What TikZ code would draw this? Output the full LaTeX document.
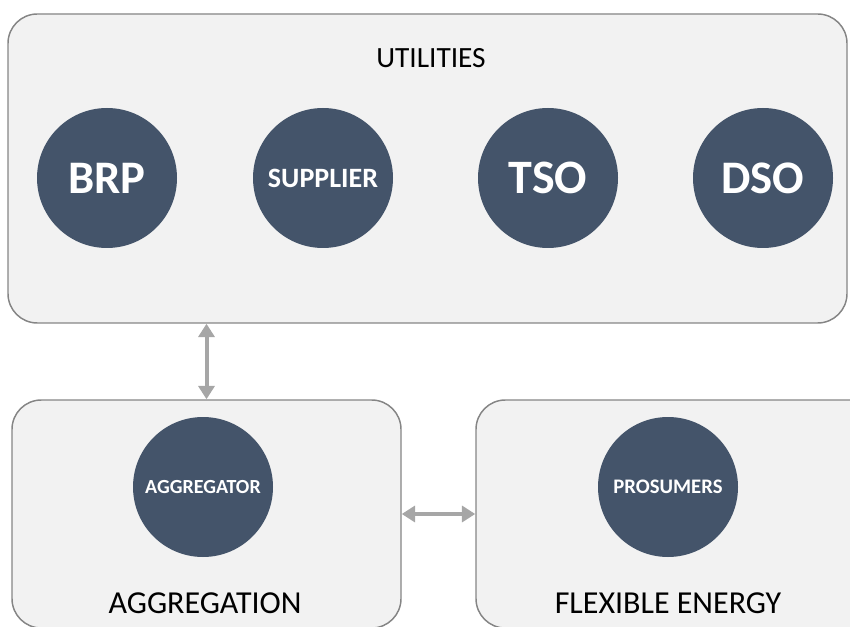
\documentclass[tikz,border=0pt]{standalone}
\usepackage{fontspec}
\setmainfont{Carlito}
\usetikzlibrary{arrows.meta, positioning, fit}
\definecolor{roleNavy}{HTML}{44546A}
\definecolor{panelGray}{HTML}{F2F2F2}
\definecolor{panelEdge}{HTML}{858585}
\definecolor{linkGray}{HTML}{A6A6A6}
\tikzset{
  panel/.style={rectangle, rounded corners=22pt, draw=panelEdge, fill=panelGray,
                line width=1.1pt, inner sep=0pt},
  role/.style={circle, fill=roleNavy, text=white, minimum size=105pt,
               inner sep=0pt, font=\bfseries},
  title/.style={text=black, inner sep=0pt},
  link/.style={{Triangle[length=10pt, width=12pt]}-{Triangle[length=10pt, width=12pt]},
               linkGray, line width=3pt},
}
\begin{document}
\begin{tikzpicture}[x=0.75pt, y=-0.75pt]
    \useasboundingbox (0,0) rectangle (850,627);
    % panels
    \node[panel, fit={(8,14) (847,323)}] (util) {};
    \node[panel, fit={(12,400) (401,628)}] (aggbox) {};
    \node[panel, fit={(476,400) (890,628)}] (flexbox) {};
    \node[title, font=\fontsize{22}{26}\selectfont] (utiltitle) at (431,58) {UTILITIES};
    % utility roles
    \foreach \n/\x/\s/\t in {brp/107/35/BRP, sup/323/21/SUPPLIER, tso/548/36/TSO, dso/763/35/DSO} {
      \node[role, font=\bfseries\fontsize{\s}{\s}\selectfont] (\n) at (\x,178) {\t};
    }
    \node[role, font=\bfseries\fontsize{15}{17}\selectfont] (agg) at (203,487) {AGGREGATOR};
    \node[role, font=\bfseries\fontsize{15.5}{17}\selectfont] (pro) at (668,487) {PROSUMERS};
    \node[title, font=\fontsize{24}{28}\selectfont] (aggtitle) at (205,603) {AGGREGATION};
    \node[title, font=\fontsize{24}{28}\selectfont] (flextitle) at (668,603) {FLEXIBLE ENERGY};
    % links
    \draw[link] (util.south -| aggbox.north) -- (aggbox.north);
    \draw[link] (aggbox.east) -- (flexbox.west);
\end{tikzpicture}
\end{document}
